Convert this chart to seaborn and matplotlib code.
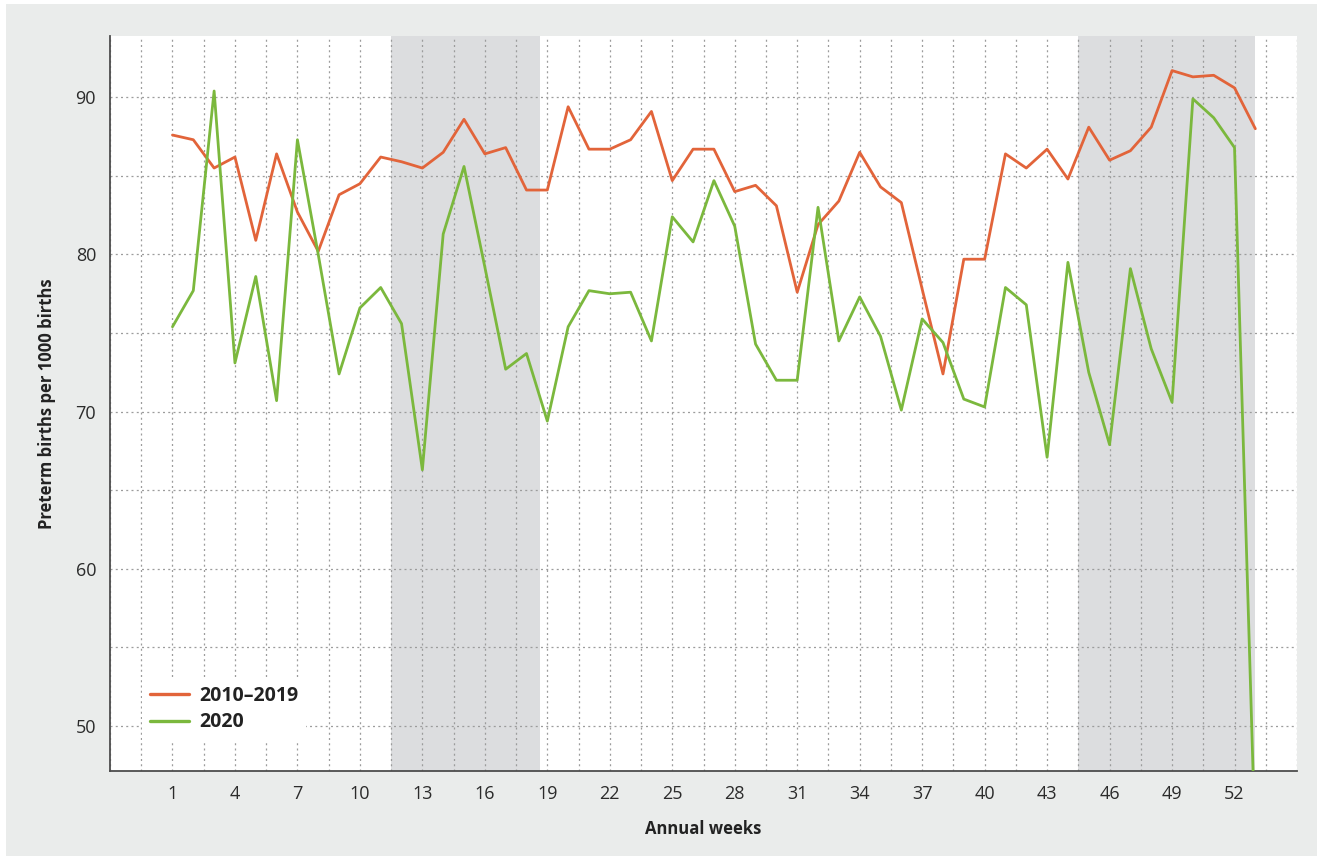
import numpy as np
import pandas as pd
import matplotlib
matplotlib.use("Agg")
import matplotlib.pyplot as plt
from matplotlib.patches import Rectangle
from matplotlib.ticker import MultipleLocator, FixedLocator
import seaborn as sns

# weekly preterm birth rate per 1000 births
weeks = list(range(1, 54))
rate_2010_2019 = [87.6, 87.3, 85.5, 86.2, 80.9, 86.4, 82.7, 80.2, 83.8, 84.5,
                  86.2, 85.9, 85.5, 86.5, 88.6, 86.4, 86.8, 84.1, 84.1, 89.4,
                  86.7, 86.7, 87.3, 89.1, 84.7, 86.7, 86.7, 84.0, 84.4, 83.1,
                  77.6, 81.9, 83.4, 86.5, 84.3, 83.3, 77.8, 72.4, 79.7, 79.7,
                  86.4, 85.5, 86.7, 84.8, 88.1, 86.0, 86.6, 88.1, 91.7, 91.3,
                  91.4, 90.6, 88.0]
rate_2020 = [75.4, 77.7, 90.4, 73.1, 78.6, 70.7, 87.3, 80.0, 72.4, 76.6,
             77.9, 75.6, 66.3, 81.3, 85.6, 79.2, 72.7, 73.7, 69.4, 75.4,
             77.7, 77.5, 77.6, 74.5, 82.4, 80.8, 84.7, 81.8, 74.3, 72.0,
             72.0, 83.0, 74.5, 77.3, 74.8, 70.1, 75.9, 74.4, 70.8, 70.3,
             77.9, 76.8, 67.1, 79.5, 72.5, 67.9, 79.1, 74.0, 70.6, 89.9,
             88.7, 86.8, 42.2]
week_ticks = list(range(1, 53, 3))
series_names = ["2010\u20132019", "2020"]
line_colors = ["#e2643a", "#7bb83d"]
lockdown_spans = [(11.5, 18.65), (44.5, 53.0)]

df = pd.DataFrame({
    "week": weeks * 2,
    "rate": rate_2010_2019 + rate_2020,
    "period": [series_names[0]] * len(weeks) + [series_names[1]] * len(weeks),
})

sns.set_style("white")
plt.rcParams["font.family"] = ["Open Sans", "DejaVu Sans"]

W, H = 1323, 860
fig = plt.figure(figsize=(W / 100, H / 100), dpi=100, facecolor="white")
fig.patches.append(Rectangle((6 / W, 4 / H), 1 - 12 / W, 1 - 8 / H,
                             transform=fig.transFigure, facecolor="#eaeceb",
                             edgecolor="none", zorder=-10))
ax = fig.add_axes([110 / W, 1 - 771 / H, (1297 - 110) / W, (771 - 36) / H])
ax.set_facecolor("white")

for x0, x1 in lockdown_spans:
    ax.axvspan(x0, x1, color="#dcdddf", lw=0, zorder=0.2)

sns.lineplot(data=df, x="week", y="rate", hue="period", palette=line_colors,
             hue_order=series_names, linewidth=2.0, ax=ax, legend=False,
             zorder=3)

ax.set_xlim(-2, 55)
ax.set_ylim(47.14, 93.9)

ax.xaxis.set_major_locator(FixedLocator(week_ticks))
ax.xaxis.set_minor_locator(MultipleLocator(1.5, offset=1))
ax.yaxis.set_major_locator(MultipleLocator(10))
ax.yaxis.set_minor_locator(MultipleLocator(5))

ax.set_axisbelow(True)
grid_kw = dict(color="#9c9c9c", linewidth=0.9, linestyle=(0, (1.6, 2.6)))
ax.grid(which="both", axis="both", **grid_kw)

for side in ["top", "right"]:
    ax.spines[side].set_visible(False)
for side in ["left", "bottom"]:
    ax.spines[side].set_color("#4d4d4d")
    ax.spines[side].set_linewidth(1.3)

ax.tick_params(which="major", length=6.5, width=1.3, color="#3a3a3a",
               labelsize=13, labelcolor="#2b2b2b", pad=3.5, direction="out")
ax.tick_params(which="minor", length=0)

ax.set_xlabel("Annual weeks", fontsize=12, fontweight="bold",
              color="#222222", labelpad=12)
ax.set_ylabel("Preterm births per 1000 births", fontsize=12,
              fontweight="bold", color="#222222", labelpad=14)

handles = [plt.Line2D([], [], color=c, linewidth=2.4) for c in line_colors]
leg = ax.legend(handles, series_names, loc="lower left",
                bbox_to_anchor=(0.027, 0.042), borderaxespad=0,
                frameon=True, facecolor="white", edgecolor="none",
                framealpha=1, fancybox=False, handlelength=2.0,
                handletextpad=0.55, labelspacing=0.35,
                prop=dict(size=14, weight="bold"))
for t in leg.get_texts():
    t.set_color("#222222")

fig.savefig("out.png", dpi=100, facecolor=fig.get_facecolor())
